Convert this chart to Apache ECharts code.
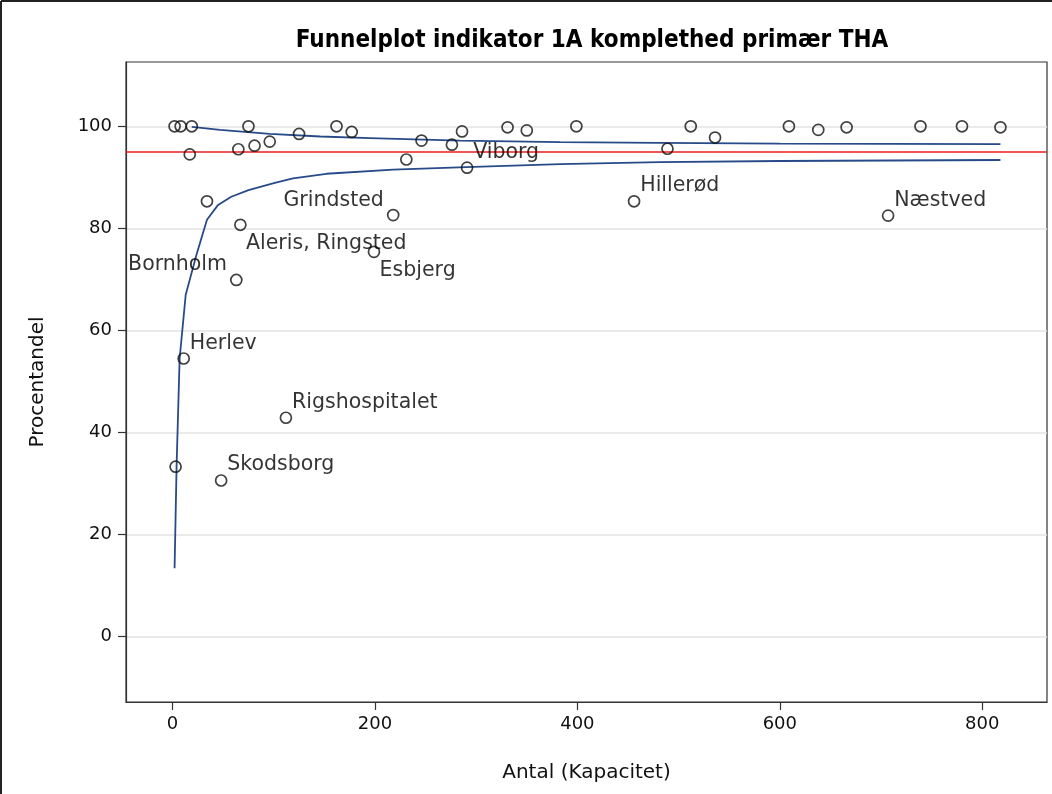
<!DOCTYPE html>
<html>
<head>
<meta charset="utf-8">
<title>Funnelplot indikator 1A komplethed primær THA</title>
<script src="https://cdn.jsdelivr.net/npm/echarts@6/dist/echarts.min.js"></script>
<style>
  html, body { margin: 0; padding: 0; background: #fff; }
  #chart { width: 1052px; height: 794px; }
</style>
</head>
<body>
<div id="chart"></div>
<script>
// Hospitals: number of operations (Antal) and completeness in percent
const hospitalN = [2, 8, 19, 17, 34, 67, 63, 65, 75, 81, 96, 125, 162, 177, 218, 199, 231, 246, 276, 286,
  291, 331, 350, 399, 456, 489, 512, 536, 609, 638, 666, 739, 780, 818, 707, 11, 112, 3, 48];
const hospitalPct = [100, 100, 100, 94.5, 85.3, 80.7, 69.9, 95.5, 100, 96.2, 97.0, 98.5, 100, 98.9, 82.6, 75.4, 93.5, 97.2, 96.4, 99.0,
  91.9, 99.8, 99.2, 100, 85.3, 95.6, 100, 97.8, 100, 99.3, 99.8, 100, 100, 99.8, 82.5, 54.5, 42.9, 33.3, 30.6];
const hospitalName = ['', '', '', '', '', 'Aleris, Ringsted', 'Bornholm', '', '', '', '', '', '', '', 'Grindsted', 'Esbjerg', '', '', '', '',
  'Viborg', '', '', '', 'Hillerød', '', '', '', '', '', '', '', '', '', 'Næstved', 'Herlev', 'Rigshospitalet', '', 'Skodsborg'];

// Control limits of the funnel
const lowerN = [2, 4, 7, 13, 24, 34, 45, 58, 75, 101, 119, 152, 218, 290, 383, 481, 600, 818];
const lowerLimit = [13.4, 33.6, 54.5, 67.0, 75.1, 81.7, 84.6, 86.2, 87.5, 88.9, 89.8, 90.7, 91.5, 92.0, 92.6, 93.0, 93.2, 93.4];
const upperN = [19, 47, 96, 146, 195, 284, 383, 481, 600, 818];
const upperLimit = [99.9, 99.3, 98.5, 98.0, 97.7, 97.2, 96.9, 96.75, 96.62, 96.5];

const targetPct = 95;
const xTicks = [0, 200, 400, 600, 800];
const yTicks = [0, 20, 40, 60, 80, 100];

// label placement around the marker for each named hospital
const placeUpperLeft = ['Grindsted', 'Bornholm'];
const placeLowerRight = ['Aleris, Ringsted', 'Esbjerg'];

function labelFor(name) {
  if (!name) return { show: false };
  const base = { show: true, formatter: '{b}', color: '#000', fontFamily: 'DejaVu Sans', fontSize: 20.5, lineHeight: 20 };
  if (placeUpperLeft.includes(name)) return Object.assign(base, { position: [-3, 1.5], align: 'right', verticalAlign: 'bottom' });
  if (placeLowerRight.includes(name)) return Object.assign(base, { position: [12, 15], align: 'left', verticalAlign: 'top' });
  return Object.assign(base, { position: [12.5, 1], align: 'left', verticalAlign: 'bottom' });
}

const points = hospitalN.map((n, i) => ({
  name: hospitalName[i],
  value: [n, hospitalPct[i]],
  label: labelFor(hospitalName[i])
}));

const chart = echarts.init(document.getElementById('chart'), null, { renderer: 'canvas' });
const axisFont = { fontFamily: 'DejaVu Sans', color: '#111' };

chart.setOption({
  animation: false,
  backgroundColor: '#fff',
  title: {
    text: 'Funnelplot indikator 1A komplethed primær THA',
    left: 587, top: 24, textAlign: 'center',
    textStyle: { fontFamily: 'DejaVu Sans Condensed', fontWeight: 'bold', fontSize: 24, color: '#000' }
  },
  graphic: [
    { type: 'line', shape: { x1: 1, y1: 1, x2: 1052, y2: 1 }, style: { stroke: '#222', lineWidth: 2 }, silent: true },
    { type: 'line', shape: { x1: 1, y1: 1, x2: 1, y2: 794 }, style: { stroke: '#222', lineWidth: 2 }, silent: true }
  ],
  grid: { left: 126, top: 62, right: 5, bottom: 92, show: true, borderColor: '#333', borderWidth: 1.2, containLabel: false },
  xAxis: {
    type: 'value', min: -46, max: 864,
    name: 'Antal (Kapacitet)', nameLocation: 'middle', nameGap: 61,
    nameTextStyle: Object.assign({ fontSize: 20 }, axisFont),
    axisLine: { show: true, onZero: false, lineStyle: { color: '#333', width: 1.2 } },
    axisTick: { show: true, length: 8, customValues: xTicks, lineStyle: { color: '#333', width: 1.2 } },
    axisLabel: Object.assign({ customValues: xTicks, fontSize: 18, margin: 13 }, axisFont),
    splitLine: { show: false }
  },
  yAxis: {
    type: 'value', min: -12.8, max: 112.6,
    name: 'Procentandel', nameLocation: 'middle', nameGap: 78, nameRotate: 90,
    nameTextStyle: Object.assign({ fontSize: 20 }, axisFont),
    axisLine: { show: true, onZero: false, lineStyle: { color: '#333', width: 1.2 } },
    axisTick: { show: true, length: 8, customValues: yTicks, lineStyle: { color: '#333', width: 1.2 } },
    axisLabel: Object.assign({ customValues: yTicks, fontSize: 18, margin: 14 }, axisFont),
    splitLine: { show: true, lineStyle: { color: '#e3e3e3', width: 1.5 } }
  },
  series: [
    {
      type: 'line', data: lowerN.map((n, i) => [n, lowerLimit[i]]),
      showSymbol: false, symbol: 'none', silent: true, z: 3,
      lineStyle: { color: '#284a88', width: 1.8 },
      markLine: {
        silent: true, symbol: 'none', label: { show: false },
        lineStyle: { color: '#ee1c1c', width: 1.5, type: 'solid' },
        data: [{ yAxis: targetPct }]
      }
    },
    {
      type: 'line', data: upperN.map((n, i) => [n, upperLimit[i]]),
      showSymbol: false, symbol: 'none', silent: true, z: 3,
      lineStyle: { color: '#284a88', width: 1.8 }
    },
    {
      type: 'scatter', data: points, z: 5,
      symbol: 'circle', symbolSize: 11,
      itemStyle: { color: 'rgba(0,0,0,0)', borderColor: '#111', borderWidth: 1.7 },
      labelLayout: { hideOverlap: false }
    }
  ]
});
</script>
</body>
</html>
